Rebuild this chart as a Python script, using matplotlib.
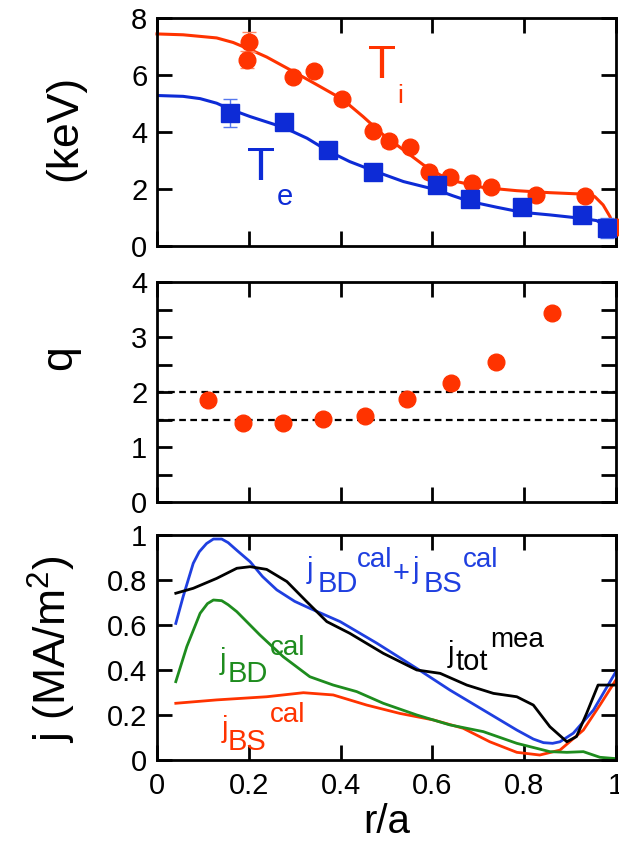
import matplotlib
matplotlib.use("Agg")
import matplotlib.pyplot as plt
from matplotlib.ticker import MultipleLocator, NullFormatter, FuncFormatter

plt.rcParams.update({
    "font.family": ["Liberation Sans", "DejaVu Sans"],
    "mathtext.fontset": "custom",
    "mathtext.rm": "Liberation Sans",
    "mathtext.it": "Liberation Sans",
    "axes.linewidth": 2.0,
})

RED = "#ff3300"
BLUE = "#0d2bd6"
BLUE_LINE = "#1f3fe0"
GREEN = "#1e8c1e"

# ---- top panel: temperatures (keV)
r_ti = [0.200, 0.197, 0.297, 0.343, 0.404, 0.471, 0.505, 0.551, 0.593, 0.638, 0.687, 0.727, 0.825, 0.932, 1.0]
ti = [7.17, 6.53, 5.92, 6.14, 5.15, 4.03, 3.67, 3.48, 2.61, 2.43, 2.22, 2.06, 1.79, 1.75, 0.68]
ti_err = [0.35, 0.30, 0.0, 0.0, 0.0, 0.0, 0.2, 0.0, 0.0, 0.0, 0.0, 0.0, 0.0, 0.0, 0.0]

r_te = [0.159, 0.277, 0.372, 0.470, 0.609, 0.682, 0.796, 0.925, 0.980]
te = [4.66, 4.36, 3.37, 2.61, 2.14, 1.64, 1.35, 1.09, 0.62]
te_err = [0.5, 0.1, 0.12, 0.0, 0.08, 0.25, 0.2, 0.25, 0.35]

r_ti_fit = [0.0, 0.057, 0.130, 0.166, 0.203, 0.239, 0.297, 0.348, 0.404, 0.449, 0.493, 0.537, 0.580,
            0.617, 0.653, 0.711, 0.784, 0.856, 0.929, 0.954, 0.972, 0.987, 1.0]
ti_fit = [7.44, 7.41, 7.30, 7.14, 6.89, 6.63, 6.12, 5.66, 5.15, 4.54, 3.90, 3.37, 2.85,
          2.49, 2.26, 2.05, 1.94, 1.87, 1.82, 1.73, 1.44, 1.03, 0.45]

r_te_fit = [0.0, 0.057, 0.094, 0.130, 0.159, 0.203, 0.276, 0.327, 0.372, 0.420, 0.470, 0.537, 0.609,
            0.645, 0.682, 0.740, 0.796, 0.856, 0.925, 0.958, 0.980, 1.0]
te_fit = [5.28, 5.25, 5.17, 5.01, 4.80, 4.54, 4.16, 3.78, 3.34, 2.96, 2.65, 2.26, 1.97,
          1.76, 1.56, 1.36, 1.18, 1.09, 0.97, 0.89, 0.68, 0.45]

# ---- middle panel: safety factor
r_q = [0.112, 0.188, 0.275, 0.362, 0.453, 0.545, 0.641, 0.738, 0.860]
q = [1.85, 1.44, 1.43, 1.51, 1.57, 1.87, 2.16, 2.54, 3.43]
q_ref = [2.0, 1.5]

# ---- bottom panel: current densities (MA/m^2)
r_sum = [0.041, 0.057, 0.079, 0.092, 0.108, 0.123, 0.141, 0.155, 0.175, 0.203, 0.23, 0.261, 0.30,
         0.333, 0.399, 0.479, 0.566, 0.638, 0.711, 0.784, 0.82, 0.842, 0.862, 0.878, 0.907, 0.951, 1.0]
j_sum = [0.607, 0.726, 0.874, 0.925, 0.962, 0.982, 0.982, 0.966, 0.930, 0.881, 0.815, 0.756, 0.705,
         0.674, 0.615, 0.519, 0.407, 0.311, 0.222, 0.133, 0.093, 0.077, 0.074, 0.081, 0.119, 0.222, 0.393]

r_mea = [0.041, 0.079, 0.130, 0.174, 0.203, 0.239, 0.283, 0.326, 0.370, 0.420, 0.493, 0.566, 0.617,
         0.675, 0.733, 0.784, 0.820, 0.856, 0.893, 0.914, 0.936, 0.961, 0.975, 1.0]
j_mea = [0.741, 0.763, 0.807, 0.852, 0.859, 0.847, 0.793, 0.704, 0.615, 0.563, 0.474, 0.40, 0.385,
         0.333, 0.296, 0.281, 0.244, 0.148, 0.081, 0.104, 0.207, 0.333, 0.333, 0.333]

r_bd = [0.041, 0.065, 0.094, 0.110, 0.123, 0.141, 0.155, 0.174, 0.224, 0.275, 0.333, 0.384, 0.435,
        0.493, 0.566, 0.638, 0.711, 0.784, 0.856, 0.893, 0.929, 0.965, 1.0]
j_bd = [0.348, 0.504, 0.652, 0.695, 0.711, 0.708, 0.690, 0.659, 0.556, 0.459, 0.370, 0.333, 0.304,
        0.252, 0.2, 0.156, 0.126, 0.074, 0.037, 0.034, 0.037, 0.012, 0.006]

r_bs = [0.041, 0.130, 0.239, 0.319, 0.384, 0.457, 0.529, 0.602, 0.667, 0.725, 0.784, 0.834, 0.878,
        0.929, 0.965, 1.0]
j_bs = [0.252, 0.267, 0.281, 0.299, 0.289, 0.244, 0.207, 0.178, 0.141, 0.081, 0.034, 0.022, 0.044,
        0.133, 0.244, 0.356]

fig = plt.figure(figsize=(6.19, 8.52), dpi=100)
ax1 = fig.add_axes([0.2536, 0.7113, 0.7415, 0.2676])
ax2 = fig.add_axes([0.2536, 0.4108, 0.7415, 0.2582])
ax3 = fig.add_axes([0.2536, 0.1080, 0.7415, 0.2641])

for ax in (ax1, ax2, ax3):
    ax.set_xlim(0, 1)
    ax.xaxis.set_major_locator(MultipleLocator(0.2))
    ax.tick_params(which="both", direction="in", top=True, right=True,
                   length=11, width=2, labelsize=21, pad=7)
    ax.tick_params(axis="x", pad=9)

# top
ax1.plot(r_ti_fit, ti_fit, color=RED, lw=2.2, clip_on=False, zorder=2)
ax1.plot(r_te_fit, te_fit, color=BLUE, lw=2.2, zorder=2)
ax1.errorbar(r_ti, ti, yerr=ti_err, fmt="o", color=RED, ms=12, ecolor="#ff8866",
             elinewidth=1, capsize=5, clip_on=False, zorder=3)
ax1.errorbar(r_te, te, yerr=te_err, fmt="s", color=BLUE, ms=13, ecolor="#5577ee",
             elinewidth=1, capsize=5, zorder=3)
ax1.set_ylim(0, 8)
ax1.yaxis.set_major_locator(MultipleLocator(2))
ax1.xaxis.set_major_formatter(NullFormatter())
ax1.text(0.460, 5.90, "T", color=RED, fontsize=33, va="baseline")
ax1.text(0.523, 5.02, "i", color=RED, fontsize=19, va="baseline")
ax1.text(0.196, 2.32, "T", color=BLUE, fontsize=33, va="baseline")
ax1.text(0.261, 1.44, "e", color=BLUE, fontsize=21, va="baseline")

# middle
for qv in q_ref:
    ax2.axhline(qv, color="black", lw=1.6, linestyle=(0, (3, 2)), zorder=1)
ax2.plot(r_q, q, "o", color=RED, ms=12, zorder=3)
ax2.set_ylim(0, 4)
ax2.yaxis.set_major_locator(MultipleLocator(1))
ax2.yaxis.set_minor_locator(MultipleLocator(0.5))
ax2.xaxis.set_major_formatter(NullFormatter())

# bottom
ax3.plot(r_bs, j_bs, color=RED, lw=2)
ax3.plot(r_bd, j_bd, color=GREEN, lw=2)
ax3.plot(r_sum, j_sum, color=BLUE_LINE, lw=2)
ax3.plot(r_mea, j_mea, color="black", lw=2)
ax3.set_ylim(0, 1)
ax3.yaxis.set_major_locator(MultipleLocator(0.2))
ax3.xaxis.set_major_formatter(FuncFormatter(lambda v, p: f"{v:g}"))
ax3.yaxis.set_major_formatter(FuncFormatter(lambda v, p: f"{v:g}"))

fs = 21
labels = [
    # text, x, y, colour, size
    ("j", 0.327, 0.809, BLUE_LINE, fs), ("BD", 0.349, 0.747, BLUE_LINE, fs), ("cal", 0.436, 0.858, BLUE_LINE, fs - 1),
    ("+", 0.514, 0.791, BLUE_LINE, fs), ("j", 0.558, 0.809, BLUE_LINE, fs), ("BS", 0.580, 0.747, BLUE_LINE, fs),
    ("cal", 0.667, 0.858, BLUE_LINE, fs - 1),
    ("j", 0.137, 0.404, GREEN, fs), ("BD", 0.155, 0.347, GREEN, fs), ("cal", 0.246, 0.467, GREEN, fs - 1),
    ("j", 0.142, 0.102, RED, fs), ("BS", 0.155, 0.044, RED, fs), ("cal", 0.246, 0.169, RED, fs - 1),
    ("j", 0.634, 0.436, "black", fs), ("tot", 0.651, 0.40, "black", fs), ("mea", 0.725, 0.502, "black", fs - 1),
]
for txt, x, y, c, s in labels:
    ax3.text(x, y, txt, color=c, fontsize=s, va="baseline", ha="left")

ax3.set_xlabel("r/a", fontsize=29, labelpad=2)

fig.text(65 / 619, 1 - 128 / 852, "(keV)", rotation=90, fontsize=32, ha="center", va="center")
fig.text(60 / 619, 1 - 358 / 852, "q", rotation=90, fontsize=32, ha="center", va="center")
fig.text(52 / 619, 1 - 649 / 852, r"j (MA/m$^\mathregular{2}$)", rotation=90, fontsize=32,
         ha="center", va="center")

fig.savefig("out.png", dpi=100)
